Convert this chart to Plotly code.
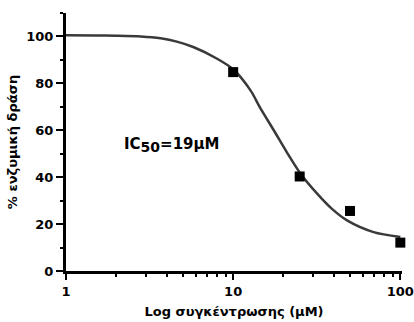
import numpy as np
import plotly.graph_objects as go

# Measured data points
conc = [10, 25, 50, 100]
activity = [84.8, 40.3, 25.6, 12.1]

# Fitted curve, points
curve_x = [1, 1.5, 2, 2.8, 3.68, 4.6, 5.82, 8.02, 10, 12.7, 14.6, 17.5, 21, 25.3, 31.8, 39, 48, 69.2, 100]
curve_y = [100.5, 100.4, 100.3, 100.0, 99.2, 97.8, 95.4, 90.5, 86, 77, 69.2, 60, 50.5, 41.5, 33, 26.5, 21.6, 16.6, 14.5]

x_tickvals = [1, 10, 100]
x_ticktext = ["<b>1</b>", "<b>10</b>", "<b>100</b>"]
y_tickvals = [0, 20, 40, 60, 80, 100]
y_ticktext = ["<b>%d</b>" % v for v in y_tickvals]

FONT = "DejaVu Sans, Verdana, sans-serif"

fig = go.Figure()
fig.add_trace(go.Scatter(
    x=curve_x, y=curve_y, mode="lines",
    line=dict(color="#3a3a3a", width=2.5, shape="spline", smoothing=0.8),
    hoverinfo="skip", showlegend=False, cliponaxis=False,
))
fig.add_trace(go.Scatter(
    x=conc, y=activity, mode="markers",
    marker=dict(symbol="square", size=10, color="black"),
    showlegend=False, cliponaxis=False,
))

fig.add_annotation(
    x=0.315, y=0.49, xref="paper", yref="paper",
    text="<b>IC<sub><span style=\"font-size:14px\">50</span></sub>=19μM</b>", showarrow=False,
    font=dict(family=FONT, size=15, color="black"),
    xanchor="center", yanchor="middle",
)

fig.update_layout(
    width=414, height=322,
    margin=dict(l=66, r=12, t=13, b=51),
    plot_bgcolor="white", paper_bgcolor="white",
    font=dict(family=FONT, color="black"),
    xaxis=dict(
        type="log", range=[0, 2.01], automargin=False,
        tickvals=x_tickvals, ticktext=x_ticktext,
        showline=True, linecolor="black", linewidth=3,
        ticks="outside", ticklen=6, tickwidth=2, tickcolor="black",
        showgrid=False, zeroline=False,
        tickfont=dict(family=FONT, size=13, color="black"),
        minor=dict(ticks="outside", ticklen=3, tickwidth=2, tickcolor="black",
                   dtick="D1", showgrid=False),
        title=dict(text="<b>Log συγκέντρωσης (μM)</b>",
                   font=dict(family=FONT, size=13, color="black"), standoff=10),
    ),
    yaxis=dict(
        range=[0, 110], automargin=False,
        tickvals=y_tickvals, ticktext=y_ticktext,
        showline=True, linecolor="black", linewidth=3,
        ticks="outside", ticklen=7, tickwidth=2, tickcolor="black",
        showgrid=False, zeroline=False,
        tickfont=dict(family=FONT, size=13, color="black"),
        minor=dict(ticks="outside", ticklen=3, tickwidth=2, tickcolor="black",
                   tickvals=[10, 30, 50, 70, 90, 110], showgrid=False),
        title=dict(text="<b>% ενζυμική δράση</b>",
                   font=dict(family=FONT, size=13, color="black"), standoff=6),
    ),
)

fig.write_html("out.html")
